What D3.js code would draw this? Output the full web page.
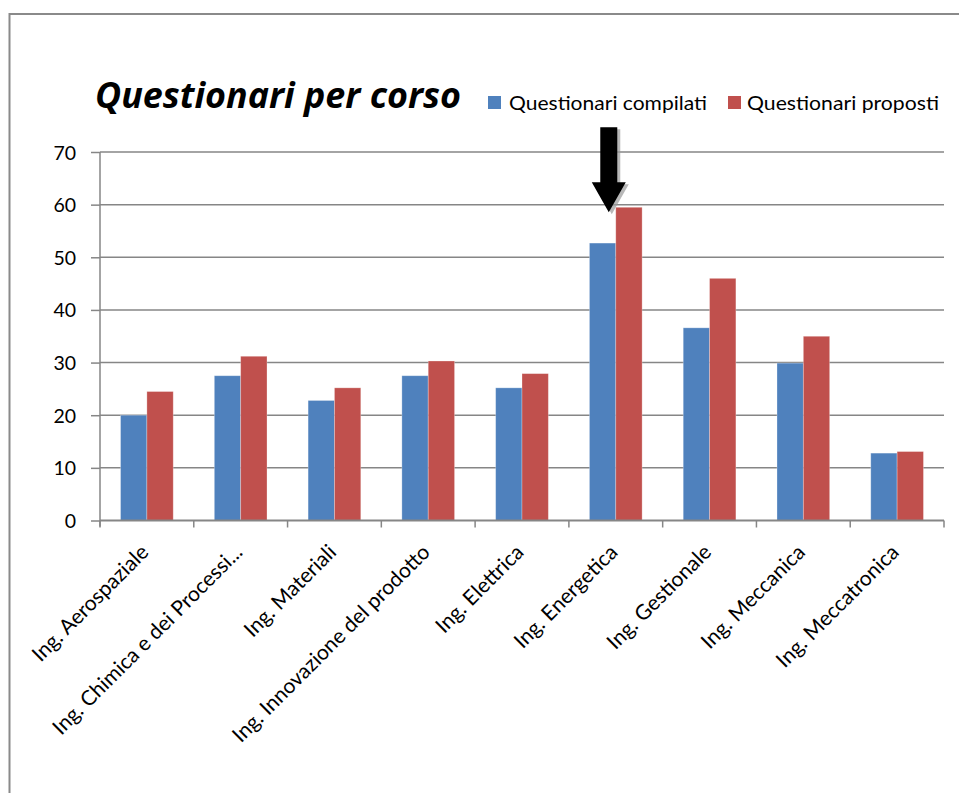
<!DOCTYPE html>
<html>
<head>
<meta charset="utf-8">
<script src="https://cdn.jsdelivr.net/npm/d3@7"></script>
<style>
  html, body { margin: 0; padding: 0; background: #fff; }
  svg { display: block; }
  text { font-family: Lato, "Open Sans", sans-serif; fill: #000; }
</style>
</head>
<body>
<svg id="chart" width="959" height="793"></svg>
<script>
const categories = [
  "Ing. Aerospaziale",
  "Ing. Chimica e dei Processi...",
  "Ing. Materiali",
  "Ing. Innovazione del prodotto",
  "Ing. Elettrica",
  "Ing. Energetica",
  "Ing. Gestionale",
  "Ing. Meccanica",
  "Ing. Meccatronica"
];
const seriesNames = ["Questionari compilati", "Questionari proposti"];
const compilati = [20, 27.5, 22.8, 27.5, 25.2, 52.7, 36.6, 29.9, 12.8];
const proposti  = [24.5, 31.2, 25.2, 30.3, 27.9, 59.5, 46.0, 35.0, 13.1];
const yTicks = [0, 10, 20, 30, 40, 50, 60, 70];
const chartTitle = "Questionari per corso";
const highlighted = "Ing. Energetica";

const colors = { "Questionari compilati": "#4F81BD", "Questionari proposti": "#C0504D" };
const gridColor = "#868686";

const svg = d3.select("#chart");

// outer chart border
svg.append("rect")
  .attr("x", 9.5).attr("y", 14)
  .attr("width", 1000).attr("height", 1000)
  .attr("fill", "none").attr("stroke", "#8a8a8a").attr("stroke-width", 2);

const pL = 100, pR = 944, pT = 152, pB = 520.5;

const x0 = d3.scaleBand().domain(categories).range([pL, pR]).padding(0);
const x1 = d3.scaleBand().domain(seriesNames).range([0, x0.bandwidth()])
  .paddingInner(0).paddingOuter(0.78);
const y = d3.scaleLinear().domain([0, 70]).range([pB, pT]);

// gridlines
svg.append("g").selectAll("line").data(yTicks.filter(d => d > 0)).join("line")
  .attr("x1", pL).attr("x2", pR)
  .attr("y1", d => y(d)).attr("y2", d => y(d))
  .attr("stroke", gridColor).attr("stroke-width", 1.5);

// y axis
const yAxis = svg.append("g").attr("transform", `translate(${pL},0)`)
  .call(d3.axisLeft(y).tickValues(yTicks).tickSize(9).tickPadding(15).tickFormat(d3.format("d")));
yAxis.select(".domain").attr("stroke", gridColor).attr("stroke-width", 1.5)
  .attr("d", `M0,${pT}V${pB + 6}`);
yAxis.selectAll(".tick line").attr("stroke", gridColor).attr("stroke-width", 1.5);
yAxis.selectAll(".tick text")
  .style("font-family", "Lato, sans-serif").style("font-size", "19.5px").attr("fill", "#000")
  .attr("dy", "0.36em");

// bars
const rows = categories.map((c, i) => ({ cat: c, values: [compilati[i], proposti[i]] }));
const groups = svg.append("g").selectAll("g").data(rows).join("g")
  .attr("transform", d => `translate(${x0(d.cat)},0)`);
groups.selectAll("rect")
  .data(d => d.values.map((v, j) => ({ key: seriesNames[j], value: v })))
  .join("rect")
  .attr("x", d => x1(d.key))
  .attr("width", x1.bandwidth())
  .attr("y", d => y(d.value))
  .attr("height", d => y(0) - y(d.value))
  .attr("fill", d => colors[d.key])
  .attr("stroke", "rgba(255,255,255,0.35)").attr("stroke-width", 0.8);

// x axis line + ticks
svg.append("line").attr("x1", pL).attr("x2", pR)
  .attr("y1", pB).attr("y2", pB)
  .attr("stroke", gridColor).attr("stroke-width", 1.8);
const boundaries = categories.map(c => x0(c)).concat([pR]);
svg.append("g").selectAll("line").data(boundaries).join("line")
  .attr("x1", d => d).attr("x2", d => d)
  .attr("y1", pB).attr("y2", pB + 7)
  .attr("stroke", gridColor).attr("stroke-width", 1.5);

// x labels rotated
svg.append("g").selectAll("text").data(categories).join("text")
  .attr("transform", d => `translate(${x0(d) + x0.bandwidth() / 2 + 3},${pB + 33}) rotate(-45)`)
  .attr("text-anchor", "end")
  .style("font-size", "21px")
  .text(d => d);

// title
svg.append("text")
  .attr("x", 95).attr("y", 108)
  .style("font-family", "'Open Sans', sans-serif")
  .style("font-size", "35px").style("font-weight", "bold").style("font-style", "italic")
  .attr("textLength", 366).attr("lengthAdjust", "spacingAndGlyphs")
  .text(chartTitle);

// legend
const legendItems = [
  { name: seriesNames[0], sx: 488, tx: 509, tl: 198 },
  { name: seriesNames[1], sx: 728, tx: 747, tl: 192 }
];
const lg = svg.append("g");
lg.selectAll("rect").data(legendItems).join("rect")
  .attr("x", d => d.sx).attr("y", 96).attr("width", 13).attr("height", 13)
  .attr("fill", d => colors[d.name]);
lg.selectAll("text").data(legendItems).join("text")
  .attr("x", d => d.tx).attr("y", 110)
  .style("font-size", "20px")
  .attr("textLength", d => d.tl).attr("lengthAdjust", "spacingAndGlyphs")
  .text(d => d.name);

// arrow annotation pointing at highlighted category
const hiIdx = categories.indexOf(highlighted);
const tipX = x0(highlighted) + x1(seriesNames[0]) + x1.bandwidth() - 7;
const tipY = y(proposti[hiIdx]) + 5;
const arrowPath = `M${tipX},${tipY} L${tipX - 17},${tipY - 30} L${tipX - 8.5},${tipY - 30} L${tipX - 8.5},${tipY - 85} L${tipX + 8.5},${tipY - 85} L${tipX + 8.5},${tipY - 30} L${tipX + 17},${tipY - 30} Z`;
svg.append("path").attr("d", arrowPath)
  .attr("transform", "translate(3,2)")
  .attr("fill", "#9a9a9a").attr("opacity", 0.7);
svg.append("path").attr("d", arrowPath).attr("fill", "#000");
</script>
</body>
</html>
